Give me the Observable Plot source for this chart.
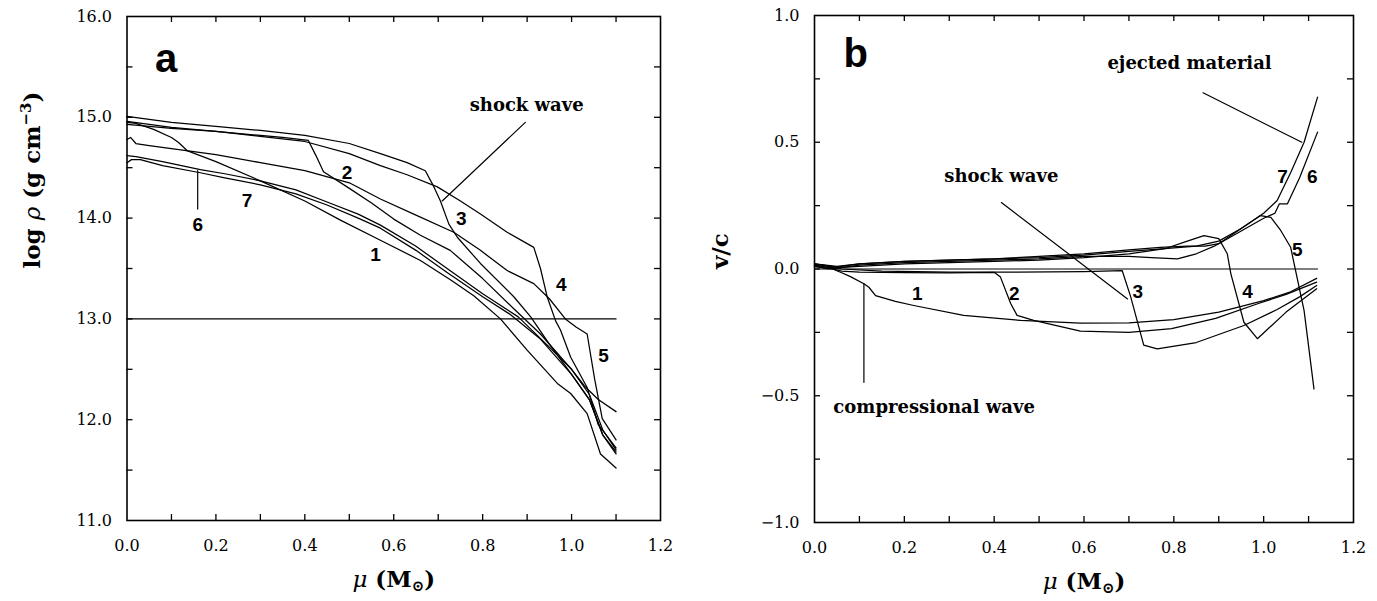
<!DOCTYPE html>
<html><head><meta charset="utf-8">
<script src="https://cdn.jsdelivr.net/npm/d3@7"></script>
<script src="https://cdn.jsdelivr.net/npm/@observablehq/plot@0.6"></script>
<style>
body{margin:0;background:#fff;}
#wrap{display:flex;width:1377px;height:601px;overflow:hidden;}
#wrap svg{display:block;}
#wrap svg g[aria-label$="tick label"], #wrap svg g[aria-label$="tick label"] text{font-family:"DejaVu Serif",serif !important;}
</style></head><body><div id="wrap"></div>
<script>
// ---------- Panel a: log rho vs mu (pairs [mu, log rho]) ----------
const densityCurve1 = [[0,14.95],[0.02,14.94],[0.06,14.88],[0.10,14.80],[0.116,14.75],[0.135,14.67],[0.2,14.56],[0.3,14.37],[0.4,14.17],[0.48,13.98],[0.57,13.78],[0.66,13.58],[0.73,13.38],[0.78,13.23],[0.84,13.0],[0.9,12.69],[0.968,12.36],[0.998,12.26],[1.035,12.06],[1.065,11.66],[1.1,11.52]];
const densityCurve2 = [[0,14.93],[0.05,14.91],[0.1,14.89],[0.2,14.86],[0.3,14.82],[0.35,14.80],[0.408,14.77],[0.425,14.62],[0.442,14.46],[0.495,14.31],[0.55,14.15],[0.6,13.99],[0.66,13.83],[0.727,13.68],[0.8,13.4],[0.87,13.1],[0.93,12.85],[1.0,12.5],[1.04,12.25],[1.07,11.9],[1.1,11.7]];
const densityCurve3 = [[0,15.01],[0.05,14.98],[0.1,14.95],[0.2,14.91],[0.3,14.87],[0.4,14.82],[0.5,14.74],[0.57,14.64],[0.63,14.55],[0.671,14.47],[0.688,14.33],[0.705,14.17],[0.724,13.94],[0.743,13.81],[0.795,13.55],[0.87,13.22],[0.908,13.02],[0.95,12.75],[1.0,12.45],[1.04,12.2],[1.07,11.85],[1.1,11.66]];
const densityCurve4 = [[0,14.96],[0.05,14.93],[0.1,14.9],[0.2,14.86],[0.3,14.81],[0.4,14.76],[0.5,14.64],[0.57,14.52],[0.63,14.43],[0.698,14.31],[0.75,14.17],[0.795,14.04],[0.855,13.86],[0.915,13.71],[0.93,13.5],[0.945,13.22],[0.964,12.98],[0.975,12.89],[0.998,12.62],[1.035,12.32],[1.06,11.95],[1.1,11.72]];
const densityCurve5 = [[0,14.78],[0.008,14.80],[0.02,14.74],[0.05,14.72],[0.1,14.69],[0.2,14.63],[0.3,14.55],[0.4,14.47],[0.5,14.35],[0.57,14.19],[0.65,14.03],[0.735,13.86],[0.795,13.68],[0.855,13.48],[0.915,13.35],[0.95,13.2],[0.986,13.0],[1.01,12.92],[1.035,12.85],[1.052,12.4],[1.069,12.01],[1.1,11.80]];
const densityCurve6 = [[0,14.62],[0.02,14.61],[0.08,14.56],[0.165,14.48],[0.22,14.44],[0.3,14.37],[0.38,14.28],[0.45,14.16],[0.52,14.04],[0.57,13.93],[0.65,13.72],[0.72,13.5],[0.8,13.25],[0.88,13.02],[0.95,12.72],[1.0,12.5],[1.03,12.33],[1.06,12.2],[1.1,12.08]];
const densityCurve7 = [[0,14.55],[0.01,14.58],[0.03,14.58],[0.08,14.52],[0.165,14.45],[0.22,14.40],[0.3,14.33],[0.38,14.24],[0.45,14.13],[0.52,14.00],[0.57,13.9],[0.65,13.68],[0.72,13.46],[0.8,13.22],[0.86,13.05],[0.93,12.8],[1.0,12.45],[1.04,12.2],[1.07,11.85],[1.1,11.68]];
const densityReference = [[0,13],[1.1,13]];
const densityShockLeader = [[0.896,14.95],[0.709,14.17]];
const densityLeader6 = [[0.159,14.47],[0.159,14.09]];
const densityLabels = [
  {mu:0.559,v:13.63,t:"1"},{mu:0.495,v:14.45,t:"2"},{mu:0.752,v:13.99,t:"3"},
  {mu:0.977,v:13.34,t:"4"},{mu:1.072,v:12.63,t:"5"},{mu:0.159,v:13.93,t:"6"},{mu:0.27,v:14.17,t:"7"}];
const densityNotesCentered = [{mu:0.899,v:15.117,t:"shock wave"}];
const densityNotesStart = [];
const densityPanel = {mu:0.088,v:15.58,t:"a"};

// ---------- Panel b: v/c vs mu ----------
const velocityCurve1 = [[0,0.01],[0.02,0.005],[0.04,0.0],[0.058,-0.013],[0.08,-0.03],[0.11,-0.058],[0.121,-0.072],[0.136,-0.105],[0.18,-0.128],[0.221,-0.144],[0.332,-0.183],[0.459,-0.203],[0.592,-0.214],[0.7,-0.213],[0.8,-0.2],[0.9,-0.17],[1.0,-0.125],[1.06,-0.09],[1.118,-0.037]];
const velocityCurve2 = [[0,0.015],[0.03,0.005],[0.06,-0.008],[0.1,-0.012],[0.2,-0.014],[0.3,-0.015],[0.40,-0.013],[0.414,-0.032],[0.437,-0.137],[0.451,-0.183],[0.488,-0.203],[0.592,-0.245],[0.7,-0.25],[0.795,-0.235],[0.893,-0.195],[0.99,-0.135],[1.05,-0.1],[1.118,-0.052]];
const velocityCurve3 = [[0,0.02],[0.03,0.01],[0.06,0.0],[0.15,-0.008],[0.3,-0.012],[0.45,-0.012],[0.6,-0.01],[0.685,-0.006],[0.704,-0.11],[0.733,-0.30],[0.763,-0.315],[0.85,-0.29],[0.956,-0.223],[1.03,-0.16],[1.08,-0.11],[1.118,-0.065]];
const velocityCurve4 = [[0,0.02],[0.02,0.015],[0.05,0.005],[0.1,0.01],[0.2,0.02],[0.3,0.025],[0.4,0.03],[0.5,0.035],[0.6,0.045],[0.7,0.06],[0.78,0.08],[0.83,0.11],[0.867,0.132],[0.9,0.12],[0.919,0.06],[0.927,-0.019],[0.956,-0.21],[0.986,-0.275],[1.05,-0.17],[1.118,-0.078]];
const velocityCurve5 = [[0,0.02],[0.05,0.01],[0.1,0.02],[0.2,0.03],[0.3,0.035],[0.4,0.04],[0.5,0.05],[0.6,0.06],[0.7,0.075],[0.77,0.085],[0.83,0.09],[0.87,0.09],[0.9,0.1],[0.95,0.16],[0.993,0.211],[1.016,0.204],[1.038,0.152],[1.06,0.086],[1.09,-0.164],[1.112,-0.473]];
const velocityCurve6 = [[0,0.01],[0.03,0.0],[0.06,0.005],[0.1,0.015],[0.2,0.025],[0.3,0.03],[0.4,0.035],[0.5,0.04],[0.6,0.05],[0.7,0.05],[0.75,0.045],[0.808,0.04],[0.85,0.06],[0.89,0.09],[0.95,0.15],[1.0,0.2],[1.025,0.22],[1.035,0.257],[1.053,0.257],[1.08,0.36],[1.12,0.54]];
const velocityCurve7 = [[0,0.015],[0.03,0.005],[0.06,0.01],[0.1,0.02],[0.2,0.03],[0.3,0.035],[0.4,0.04],[0.5,0.045],[0.6,0.055],[0.7,0.07],[0.78,0.08],[0.85,0.09],[0.9,0.11],[0.95,0.16],[1.0,0.22],[1.03,0.27],[1.06,0.38],[1.09,0.50],[1.12,0.678]];
const velocityReference = [[0,0],[1.12,0]];
const velocityShockLeader = [[0.416,0.262],[0.697,-0.118]];
const velocityEjectLeader = [[0.865,0.695],[1.085,0.50]];
const velocityCompLeader = [[0.11,-0.058],[0.11,-0.447]];
const velocityLabels = [
  {mu:0.229,v:-0.097,t:"1"},{mu:0.445,v:-0.097,t:"2"},{mu:0.72,v:-0.092,t:"3"},
  {mu:0.964,v:-0.092,t:"4"},{mu:1.075,v:0.076,t:"5"},{mu:1.108,v:0.362,t:"6"},{mu:1.042,v:0.362,t:"7"}];
const velocityNotesCentered = [
  {mu:0.416,v:0.365,t:"shock wave"},
  {mu:0.835,v:0.81,t:"ejected material"}];
const velocityNotesStart = [{mu:0.042,v:-0.545,t:"compressional wave"}];
const velocityPanel = {mu:0.092,v:0.847,t:"b"};

// ---------- ticks ----------
const xTickValues = [0.1,0.2,0.3,0.4,0.5,0.6,0.7,0.8,0.9,1.0,1.1];
const xLabelValues = [0,0.2,0.4,0.6,0.8,1.0,1.2];
const densityTickValues = [11.5,12,12.5,13,13.5,14,14.5,15,15.5];
const densityLabelValues = [11,12,13,14,15,16];
const velocityTickValues = [-0.75,-0.5,-0.25,0,0.25,0.5,0.75];
const velocityLabelValues = [-1,-0.5,0,0.5,1];

const fmt = d => (d < 0 ? "\u2212" : "") + Math.abs(d).toFixed(1);
const toRows = curves => curves.flatMap((pts, i) => pts.map(([mu, v]) => ({curve: i + 1, mu, v})));
const seg = pts => pts.map(([mu, v]) => ({mu, v}));

const SERIF = "DejaVu Serif";
const SANS = "Liberation Sans";
const TICK = 6;

function panel({width, ml, mr, mt, mb, ydomain, curves, refLine, leaders, labels, notesC, notesS, letter, yTicks, yLabels, ytitle}) {
  const H = 601;
  const ph = H - mt - mb, pw = width - ml - mr;
  return Plot.plot({
    width, height: H, marginLeft: ml, marginRight: mr, marginTop: mt, marginBottom: mb,
    x: {domain: [0, 1.2]},
    y: {domain: ydomain},
    style: {fontFamily: SERIF, fontSize: "16px", color: "black", background: "white"},
    marks: [
      Plot.line(seg(refLine), {x: "mu", y: "v", stroke: "black", strokeWidth: 1.2}),
      Plot.line(toRows(curves), {x: "mu", y: "v", z: "curve", stroke: "black", strokeWidth: 1.25, curve: "linear"}),
      ...leaders.map(l => Plot.line(seg(l), {x: "mu", y: "v", stroke: "black", strokeWidth: 1.2})),
      Plot.ruleX(xTickValues, {insetTop: ph - TICK, stroke: "black", strokeWidth: 1.3}),
      Plot.ruleX(xTickValues, {insetBottom: ph - TICK, stroke: "black", strokeWidth: 1.3}),
      Plot.ruleY(yTicks, {insetRight: pw - TICK, stroke: "black", strokeWidth: 1.3}),
      Plot.ruleY(yTicks, {insetLeft: pw - TICK, stroke: "black", strokeWidth: 1.3}),
      Plot.frame({stroke: "black", strokeWidth: 1.6}),
      Plot.axisX(xLabelValues, {anchor: "bottom", tickSize: 0, tickPadding: 19, tickFormat: fmt, label: null, fontSize: 16, fontFamily: SERIF}),
      Plot.axisY(yLabels, {anchor: "left", tickSize: 0, tickPadding: 15, tickFormat: fmt, label: null, fontSize: 16, fontFamily: SERIF}),
      Plot.text(labels, {x: "mu", y: "v", text: "t", fontFamily: SANS, fontWeight: "bold", fontSize: 19}),
      Plot.text(notesC, {x: "mu", y: "v", text: "t", textAnchor: "middle", fontFamily: SERIF, fontWeight: "bold", fontSize: 18}),
      Plot.text(notesS, {x: "mu", y: "v", text: "t", textAnchor: "start", fontFamily: SERIF, fontWeight: "bold", fontSize: 18}),
      Plot.text([letter], {x: "mu", y: "v", text: "t", fontFamily: SANS, fontWeight: "bold", fontSize: 40}),
      Plot.text(["\u03bc (M\u2299)"], {frameAnchor: "bottom", dy: 66, fontFamily: SERIF, fontWeight: "bold", fontSize: 23}),
      Plot.text([ytitle], {frameAnchor: "left", dx: 32 - ml, rotate: -90, fontFamily: SERIF, fontWeight: "bold", fontSize: 23})
    ]
  });
}

function richen(svg, plain, parts) {
  d3.select(svg).selectAll("text").filter(function() { return this.textContent === plain; }).each(function() {
    const t = d3.select(this);
    t.text(null);
    parts.forEach(p => {
      const s = t.append("tspan").text(p.t);
      if (p.i) s.attr("font-style", "italic").attr("font-weight", "normal");
      if (p.sub) s.attr("baseline-shift", "-25%").attr("font-size", "65%");
      if (p.sup) s.attr("baseline-shift", "super").attr("font-size", "65%");
    });
  });
}

const svgA = panel({
  width: 688, ml: 126.5, mr: 28, mt: 16, mb: 81, ydomain: [11, 16],
  curves: [densityCurve1, densityCurve2, densityCurve3, densityCurve4, densityCurve5, densityCurve6, densityCurve7],
  refLine: densityReference, leaders: [densityShockLeader, densityLeader6],
  labels: densityLabels, notesC: densityNotesCentered, notesS: densityNotesStart, letter: densityPanel,
  yTicks: densityTickValues, yLabels: densityLabelValues, ytitle: "log \u03c1 (g cm-3)"
});
const svgB = panel({
  width: 689, ml: 126, mr: 24, mt: 15, mb: 79, ydomain: [-1, 1],
  curves: [velocityCurve1, velocityCurve2, velocityCurve3, velocityCurve4, velocityCurve5, velocityCurve6, velocityCurve7],
  refLine: velocityReference, leaders: [velocityShockLeader, velocityEjectLeader, velocityCompLeader],
  labels: velocityLabels, notesC: velocityNotesCentered, notesS: velocityNotesStart, letter: velocityPanel,
  yTicks: velocityTickValues, yLabels: velocityLabelValues, ytitle: "v/c"
});
const muParts = [{t: "\u03bc", i: true}, {t: " (M"}, {t: "\u2299", sub: true}, {t: ")"}];
richen(svgA, "\u03bc (M\u2299)", muParts);
richen(svgB, "\u03bc (M\u2299)", muParts);
richen(svgA, "log \u03c1 (g cm-3)", [{t: "log "}, {t: "\u03c1", i: true}, {t: " (g cm"}, {t: "\u22123", sup: true}, {t: ")"}]);
for (const svg of [svgA, svgB]) {
  d3.select(svg).selectAll("g[aria-label$='tick label']").style("font-family", "'DejaVu Serif', serif")
    .selectAll("text").style("font-family", "'DejaVu Serif', serif");
}
document.getElementById("wrap").append(svgA, svgB);
</script></body></html>
